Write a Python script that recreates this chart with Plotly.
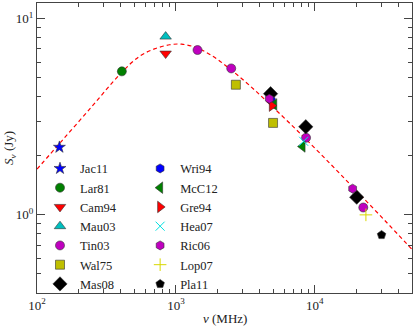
import plotly.graph_objects as go

# model curve (MHz, Jy)
fit_f = [100, 150, 250, 400, 550, 700, 900, 1100, 1400, 1800, 2400, 3400,
         5000, 8000, 13000, 20000, 32000, 50000]
fit_s = [1.71, 2.37, 3.58, 5.25, 6.44, 7.0, 7.35, 7.40, 7.11, 6.49, 5.60, 4.55,
         3.53, 2.56, 1.81, 1.32, 0.933, 0.667]

# measurements per reference (MHz, Jy)
jac11_f = [145];    jac11_s = [2.21]
lar81_f = [408];    lar81_s = [5.38]
cam94_f = [843];    cam94_s = [6.63]
mau03_f = [843];    mau03_s = [8.09]
tin03_f = [1430, 2500, 8640, 22300]; tin03_s = [6.91, 5.57, 2.47, 1.09]
wal75_f = [2700, 5000]; wal75_s = [4.6, 2.94]
mas08_f = [4800, 8600, 20000]; mas08_s = [4.14, 2.81, 1.23]
wri94_f = [4850];   wri94_s = [3.84]
mcc12_f = [5100, 8150]; mcc12_s = [3.65, 2.23]
gre94_f = [4900];   gre94_s = [3.6]
hea07_f = [8300];   hea07_s = [2.37]
ric06_f = [4700, 18700]; ric06_s = [3.9, 1.36]
lop07_f = [23300];  lop07_s = [1.0]
pla11_f = [30200];  pla11_s = [0.79]

xtick_vals = [100, 1000, 10000]
xtick_text = ["10<sup>2</sup>", "10<sup>3</sup>", "10<sup>4</sup>"]
ytick_vals = [1, 10]
ytick_text = ["10<sup>0</sup>", "10<sup>1</sup>"]

series = [
    ("Jac11", jac11_f, jac11_s, "legend"),
    ("Lar81", lar81_f, lar81_s, "legend"),
    ("Cam94", cam94_f, cam94_s, "legend"),
    ("Mau03", mau03_f, mau03_s, "legend"),
    ("Tin03", tin03_f, tin03_s, "legend"),
    ("Wal75", wal75_f, wal75_s, "legend"),
    ("Mas08", mas08_f, mas08_s, "legend"),
    ("Wri94", wri94_f, wri94_s, "legend2"),
    ("McC12", mcc12_f, mcc12_s, "legend2"),
    ("Gre94", gre94_f, gre94_s, "legend2"),
    ("Hea07", hea07_f, hea07_s, "legend2"),
    ("Ric06", ric06_f, ric06_s, "legend2"),
    ("Lop07", lop07_f, lop07_s, "legend2"),
    ("Pla11", pla11_f, pla11_s, "legend2"),
]

# symbol, colour, size
style = {
    "Jac11": ("star", "#0000ff", 9),
    "Lar81": ("circle", "#008000", 9),
    "Cam94": ("triangle-down", "#ff0000", 10),
    "Mau03": ("triangle-up", "#00bfbf", 10),
    "Tin03": ("circle", "#bf00bf", 9),
    "Wal75": ("square", "#bfbf00", 9),
    "Mas08": ("diamond", "#000000", 11),
    "Wri94": ("hexagon", "#0000ff", 9),
    "McC12": ("triangle-left", "#008000", 10),
    "Gre94": ("triangle-right", "#ff0000", 10),
    "Hea07": ("x-thin", "#00e0e0", 9),
    "Ric06": ("hexagon", "#bf00bf", 9),
    "Lop07": ("cross-thin", "#d8d800", 9),
    "Pla11": ("pentagon", "#000000", 9),
}

fig = go.Figure()
fig.add_trace(go.Scatter(x=fit_f, y=fit_s, mode="lines", line_shape="spline",
                         line=dict(color="#ff0000", width=1.2, dash="4px,3px"),
                         showlegend=False, hoverinfo="skip"))

for name, f, s, leg in series:
    sym, col, size = style[name]
    if sym.endswith("-thin"):
        mk = dict(symbol=sym, size=size, color=col, line=dict(color=col, width=1))
    else:
        mk = dict(symbol=sym, size=size, color=col, line=dict(color="#333333", width=0.6))
    fig.add_trace(go.Scatter(x=f, y=s, mode="markers", name=name, marker=mk, legend=leg))

serif = dict(family="Liberation Serif", size=13, color="#222222")
leg_font = dict(family="Liberation Serif", size=12.5, color="#222222")
axis_common = dict(type="log", showline=True, linecolor="#444444", linewidth=1,
                   mirror="ticks", ticks="inside", ticklen=8, tickcolor="#444444",
                   showgrid=False, zeroline=False, automargin=False, tickfont=serif)

fig.update_xaxes(**axis_common, range=[2, 4.699], tickvals=xtick_vals, ticktext=xtick_text,
                 minor=dict(ticks="inside", ticklen=4, tickcolor="#444444",
                            tickvals=[200, 300, 400, 500, 600, 700, 800, 900,
                                      2000, 3000, 4000, 5000, 6000, 7000, 8000, 9000,
                                      20000, 30000, 40000]))
fig.update_yaxes(**axis_common, range=[-0.398, 1.079], tickvals=ytick_vals, ticktext=ytick_text,
                 minor=dict(ticks="inside", ticklen=4, tickcolor="#444444",
                            tickvals=[0.4, 0.5, 0.6, 0.7, 0.8, 0.9,
                                      2, 3, 4, 5, 6, 7, 8, 9]))

fig.add_annotation(text="<i>ν</i> (MHz)", xref="paper", yref="paper", x=0.5, y=-0.088,
                   xanchor="center", yanchor="middle", showarrow=False, font=serif)
fig.add_annotation(text="<i>S<sub>ν</sub></i> (Jy)", xref="paper", yref="paper", x=-0.075, y=0.5,
                   xanchor="center", yanchor="middle", textangle=-90, showarrow=False, font=serif)

fig.update_layout(
    width=415, height=326,
    margin=dict(l=37, r=3, t=3, b=33),
    plot_bgcolor="white", paper_bgcolor="white",
    legend=dict(x=0.008, y=0.48, xanchor="left", yanchor="top", font=leg_font,
                bgcolor="rgba(0,0,0,0)", itemwidth=30, tracegroupgap=0),
    legend2=dict(x=0.275, y=0.48, xanchor="left", yanchor="top", font=leg_font,
                 bgcolor="rgba(0,0,0,0)", itemwidth=30, tracegroupgap=0),
)

fig.write_html("out.html", config={"displayModeBar": False},
               post_script="document.body.style.margin='0';")
